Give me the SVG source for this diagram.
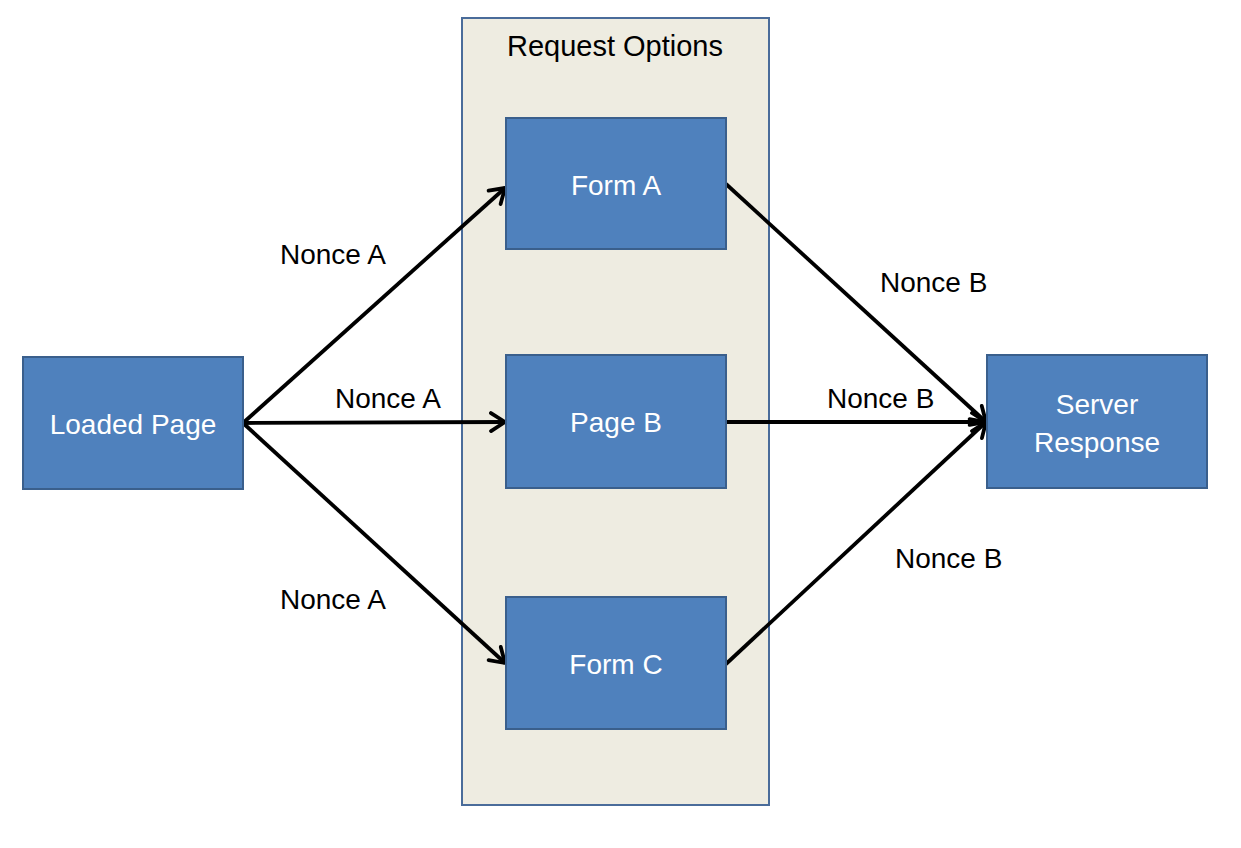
<svg xmlns="http://www.w3.org/2000/svg" width="1241" height="848" viewBox="0 0 1241 848">
<style>
.box{fill:#4F81BD;stroke:#3A5F8C;stroke-width:2}
.cont{fill:#EEECE1;stroke:#4A6C9A;stroke-width:2}
.nt{font-family:"Liberation Sans",Arial,sans-serif;font-size:28px;fill:#FFFFFF;text-anchor:middle}
.lt{font-family:"Liberation Sans",Arial,sans-serif;font-size:28px;fill:#000000}
.ct{font-family:"Liberation Sans",Arial,sans-serif;font-size:29px;fill:#000000;text-anchor:middle}
.ln{stroke:#000;stroke-width:3.8;fill:none;marker-end:url(#ah)}
</style>
<defs>
<marker id="ah" markerUnits="userSpaceOnUse" markerWidth="20" markerHeight="24" viewBox="0 0 20 24" refX="18" refY="12" orient="auto">
<path d="M4,3 L18,12 L4,21" fill="none" stroke="#000" stroke-width="3.8" stroke-linecap="round" stroke-linejoin="round"/>
</marker>
</defs>
<rect width="1241" height="848" fill="#FFFFFF"/>
<g id="request-options">
<rect class="cont" x="462" y="18" width="307" height="787"/>
<text class="ct" x="615" y="56">Request Options</text>
</g>
<g id="connectors">
<line class="ln" x1="243" y1="423" x2="505" y2="188"/>
<line class="ln" x1="243" y1="423" x2="505" y2="422"/>
<line class="ln" x1="243" y1="423" x2="505" y2="663"/>
<line class="ln" x1="726" y1="184" x2="986" y2="422"/>
<line class="ln" x1="726" y1="422" x2="986" y2="422"/>
<line class="ln" x1="726" y1="664" x2="986" y2="422"/>
<text class="lt" x="280" y="264">Nonce A</text>
<text class="lt" x="335" y="408">Nonce A</text>
<text class="lt" x="280" y="609">Nonce A</text>
<text class="lt" x="880" y="292">Nonce B</text>
<text class="lt" x="827" y="408">Nonce B</text>
<text class="lt" x="895" y="568">Nonce B</text>
</g>
<g id="loaded-page">
<rect class="box" x="23" y="357" width="220" height="132"/>
<text class="nt" x="133" y="434">Loaded Page</text>
</g>
<g id="form-a">
<rect class="box" x="506" y="118" width="220" height="131"/>
<text class="nt" x="616" y="195">Form A</text>
</g>
<g id="page-b">
<rect class="box" x="506" y="355" width="220" height="133"/>
<text class="nt" x="616" y="432">Page B</text>
</g>
<g id="form-c">
<rect class="box" x="506" y="597" width="220" height="132"/>
<text class="nt" x="616" y="674">Form C</text>
</g>
<g id="server-response">
<rect class="box" x="987" y="355" width="220" height="133"/>
<text class="nt" x="1097" y="414">Server</text>
<text class="nt" x="1097" y="452">Response</text>
</g>
</svg>
